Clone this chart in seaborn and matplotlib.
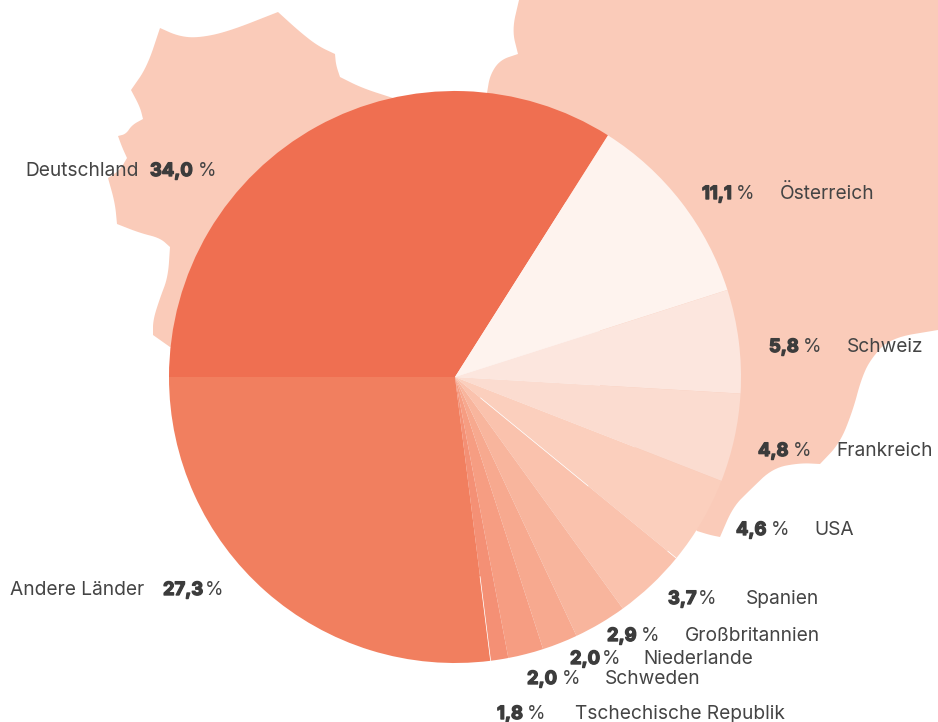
import numpy as np
import matplotlib.pyplot as plt
import seaborn as sns
import matplotlib.patheffects as pe
from matplotlib.patches import Polygon

W, H = 938, 722

# slices, clockwise from the left edge of the pie
countries = ["Deutschland", "Österreich", "Schweiz", "Frankreich", "USA", "Spanien",
             "Großbritannien", "Niederlande", "Schweden", "Tschechische Republik", "Andere Länder"]
# numbers as printed next to the pie
shares = [34.0, 11.1, 5.8, 4.8, 4.6, 3.7, 2.9, 2.0, 2.0, 1.8, 27.3]
# slice sizes as measured on the picture, the small ones are not quite the printed numbers
slice_sizes = [34.0, 11.1, 5.85, 5.0, 5.0, 4.1, 3.0, 2.0, 2.0, 1.0, 27.0]
colors = ["#EF6F51", "#FEF3EE", "#FCE6DE", "#FBDCD0", "#FBCFBD", "#FAC2AD",
          "#F8B59D", "#F7A98F", "#F69D82", "#F49075", "#F17F5F"]

# text layout in pixels: number x, percent x, name x, baseline y
label_pos = {
    "Österreich": (702, 736, 780, 199),
    "Schweiz": (769, 803, 847, 352),
    "Frankreich": (758, 793, 836, 456),
    "USA": (736, 771, 814, 535),
    "Spanien": (668, 698, 746, 604),
    "Großbritannien": (607, 641, 685, 641),
    "Niederlande": (570, 602, 643, 664),
    "Schweden": (527, 562, 605, 684),
    "Tschechische Republik": (497, 527, 575, 719),
    "Deutschland": (150, 198, 25, 176),
    "Andere Länder": (163, 205, 10, 595),
}

# map silhouettes behind the pie, decoration only. each run is rounded, corners stay sharp
germany_runs = [
    [(160, 28), (178, 36), (197, 38), (227, 32), (278, 12)],
    [(278, 12), (300, 32), (318, 46), (335, 54)],
    [(335, 54), (336, 65), (340, 77)],
    [(340, 77), (362, 88), (393, 98)],
    [(393, 98), (420, 200), (300, 300), (170, 347)],
    [(170, 347), (153, 335)],
    [(153, 335), (153, 320), (160, 298), (168, 277), (170, 247)],
    [(170, 247), (160, 238), (140, 233), (117, 224)],
    [(117, 224), (115, 203), (108, 178)],
    [(108, 178), (120, 170), (127, 158)],
    [(127, 158), (122, 147), (118, 136)],
    [(118, 136), (126, 134), (132, 125), (143, 119)],
    [(143, 119), (140, 107), (131, 90)],
    [(131, 90), (147, 67), (160, 28)],
]
east_runs = [
    [(519, 0), (512, 30), (518, 54)],
    [(518, 54), (500, 60), (490, 75), (487, 93)],
    [(487, 93), (600, 250)],
    [(600, 250), (600, 400)],
    [(600, 400), (697, 531)],
    [(697, 531), (710, 535), (720, 537)],
    [(720, 537), (733, 507), (750, 490), (773, 468), (800, 463), (820, 464)],
    [(820, 464), (840, 443), (853, 410), (861, 380), (870, 360), (890, 338), (938, 330)],
    [(938, 330), (938, 0)],
]


def round_run(points, passes=3):
    pts = np.array(points, dtype=float)
    for _ in range(passes):
        if len(pts) < 3:
            break
        q = 0.75 * pts[:-1] + 0.25 * pts[1:]
        r = 0.25 * pts[:-1] + 0.75 * pts[1:]
        pts = np.vstack([pts[0], np.column_stack([q, r]).reshape(-1, 2), pts[-1]])
    return pts


def outline(runs):
    return np.vstack([round_run(run) for run in runs])


sns.set_theme(style="white")
plt.rcParams["font.family"] = ["Inter", "DejaVu Sans"]
text_color = "#444444"

fig = plt.figure(figsize=(W / 100, H / 100), dpi=100)
ax = fig.add_axes([0, 0, 1, 1])

map_color = "#FACBB9"
ax.add_patch(Polygon(outline(germany_runs), closed=True, facecolor=map_color, edgecolor="none", zorder=0))
ax.add_patch(Polygon(outline(east_runs), closed=True, facecolor=map_color, edgecolor="none", zorder=0))

# y axis is flipped below, so counterclock=True runs clockwise on screen
cx, cy, radius = 455, 377, 286
ax.pie(slice_sizes, colors=sns.color_palette(colors), startangle=180, counterclock=True,
       center=(cx, cy), radius=radius, wedgeprops={"linewidth": 0}, frame=True)
ax.set_xlim(0, W)
ax.set_ylim(H, 0)
ax.set_aspect("auto")
ax.axis("off")

# thin white gaps that show along two slice borders
edges = np.cumsum(slice_sizes) / np.sum(slice_sizes) * 2 * np.pi + np.pi
for edge, r0, r1 in [(edges[4], 33, 172), (edges[4], 275, 286), (edges[9], 201, 286)]:
    ax.plot([cx + r0 * np.cos(edge), cx + r1 * np.cos(edge)],
            [cy + r0 * np.sin(edge), cy + r1 * np.sin(edge)], color="white", lw=0.5)

for name, share in zip(countries, shares):
    num_x, pct_x, name_x, y = label_pos[name]
    ax.text(name_x, y, name, fontsize=13.8, color=text_color, va="baseline", ha="left")
    ax.text(num_x, y, f"{share:.1f}".replace(".", ","), fontsize=13.2, fontweight="bold",
            color="#3c3c3c", va="baseline", ha="left",
            path_effects=[pe.withStroke(linewidth=1.0, foreground="#3c3c3c")])
    ax.text(pct_x, y, "%", fontsize=13.6, color=text_color, va="baseline", ha="left")

fig.savefig("out.png", dpi=100)
